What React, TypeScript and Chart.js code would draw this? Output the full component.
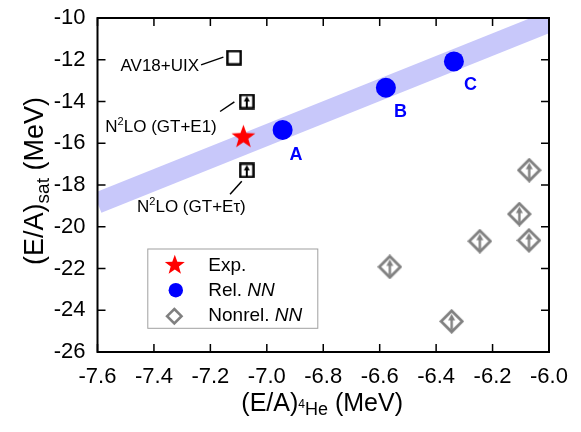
import React, { useEffect, useRef } from "react";
import { Chart, registerables } from "chart.js";

Chart.register(...registerables);

const FONT = "'Liberation Sans', Arial, Helvetica, sans-serif";

// ---- data ----
const xTicks = [-7.6, -7.4, -7.2, -7.0, -6.8, -6.6, -6.4, -6.2, -6.0];
const yTicks = [-26, -24, -22, -20, -18, -16, -14, -12, -10];

const bandX = [-7.6, -6.0];
const bandY = [-18.86, -10.19];

const expX = [-7.083];
const expY = [-15.71];

const relX = [-6.944, -6.578, -6.337];
const relY = [-15.36, -13.34, -12.08];
const relLabels = ["A", "B", "C"];

const nonrelX = [-6.07, -6.105, -6.071, -6.245, -6.564, -6.345];
const nonrelY = [-17.29, -19.39, -20.65, -20.69, -21.92, -24.53];

const av18X = [-7.116];
const av18Y = [-11.9];
const av18Label = "AV18+UIX";

const n2loX = [-7.071, -7.071];
const n2loY = [-14.0, -17.3];
const n2loLabels = ["(GT+E1)", "(GT+E\u03c4)"];

const legendLabels = ["Exp.", "Rel. ", "Nonrel. "];

// ---- drawing helpers ----
const BLUE = "#0000ff";
const RED = "#ff0000";
const GRAY = "#808080";

function drawStar(ctx: CanvasRenderingContext2D, cx: number, cy: number, R: number, r: number, color: string) {
  ctx.beginPath();
  for (let i = 0; i < 10; i++) {
    const ang = -Math.PI / 2 + (i * Math.PI) / 5;
    const rad = i % 2 === 0 ? R : r;
    const px = cx + rad * Math.cos(ang);
    const py = cy + rad * Math.sin(ang);
    if (i === 0) ctx.moveTo(px, py);
    else ctx.lineTo(px, py);
  }
  ctx.closePath();
  ctx.fillStyle = color;
  ctx.fill();
}

function drawArrow(ctx: CanvasRenderingContext2D, cx: number, yBottom: number, yTip: number, headW: number, headH: number, lw: number, color: string) {
  ctx.strokeStyle = color;
  ctx.lineWidth = lw;
  ctx.beginPath();
  ctx.moveTo(cx, yBottom);
  ctx.lineTo(cx, yTip + headH - 0.5);
  ctx.stroke();
  ctx.beginPath();
  ctx.moveTo(cx, yTip);
  ctx.lineTo(cx - headW / 2, yTip + headH);
  ctx.lineTo(cx + headW / 2, yTip + headH);
  ctx.closePath();
  ctx.fillStyle = color;
  ctx.fill();
}

function drawDiamond(ctx: CanvasRenderingContext2D, cx: number, cy: number, half: number, lw: number, color: string, arrow: boolean) {
  const h = half - lw / 2;
  ctx.beginPath();
  ctx.moveTo(cx, cy - h);
  ctx.lineTo(cx + h, cy);
  ctx.lineTo(cx, cy + h);
  ctx.lineTo(cx - h, cy);
  ctx.closePath();
  ctx.strokeStyle = color;
  ctx.lineWidth = lw;
  ctx.lineJoin = "miter";
  ctx.stroke();
  if (arrow) drawArrow(ctx, cx, cy + 8.3, cy - 7.6, 7, 6.5, 2.4, color);
}

function drawSquare(ctx: CanvasRenderingContext2D, cx: number, cy: number, half: number, lw: number, color: string, arrow: boolean) {
  const h = half - lw / 2;
  ctx.strokeStyle = color;
  ctx.lineWidth = lw;
  ctx.strokeRect(cx - h, cy - h, 2 * h, 2 * h);
  if (arrow) drawArrow(ctx, cx, cy + h, cy - 5.4, 6, 5.5, 2, color);
}

function makeImg(size: number, draw: (ctx: CanvasRenderingContext2D, c: number) => void) {
  const c = document.createElement("canvas");
  c.width = size;
  c.height = size;
  const ctx = c.getContext("2d")!;
  draw(ctx, size / 2);
  return c;
}

type Run = { t: string; f: string; dy?: number };
function drawRuns(ctx: CanvasRenderingContext2D, runs: Run[], x: number, y: number, align: "left" | "right" | "center") {
  let w = 0;
  for (const r of runs) {
    ctx.font = r.f;
    w += ctx.measureText(r.t).width;
  }
  let cx = align === "left" ? x : align === "right" ? x - w : x - w / 2;
  ctx.textAlign = "left";
  ctx.textBaseline = "alphabetic";
  for (const r of runs) {
    ctx.font = r.f;
    ctx.fillText(r.t, cx, y + (r.dy || 0));
    cx += ctx.measureText(r.t).width;
  }
}

const f = (px: number, style = "") => `${style} ${px}px ${FONT}`.trim();

const decorPlugin = {
  id: "decor",
  afterDraw(chart: any) {
    const ctx: CanvasRenderingContext2D = chart.ctx;
    const { left, right, top, bottom } = chart.chartArea;
    const xs = chart.scales.x;
    const ys = chart.scales.y;
    ctx.save();

    // frame
    ctx.strokeStyle = "#000";
    ctx.lineWidth = 2;
    ctx.strokeRect(left, top, right - left, bottom - top);

    // inward ticks on all four sides
    ctx.lineWidth = 1.5;
    const TL = 8;
    ctx.beginPath();
    for (const v of xTicks) {
      const px = xs.getPixelForValue(v);
      ctx.moveTo(px, bottom);
      ctx.lineTo(px, bottom - TL);
      ctx.moveTo(px, top);
      ctx.lineTo(px, top + TL);
    }
    for (const v of yTicks) {
      const py = ys.getPixelForValue(v);
      ctx.moveTo(left, py);
      ctx.lineTo(left + TL, py);
      ctx.moveTo(right, py);
      ctx.lineTo(right - TL, py);
    }
    ctx.stroke();

    // labels A, B, C
    const relOff = [
      [7, 30],
      [8, 29],
      [10, 29],
    ];
    ctx.fillStyle = BLUE;
    ctx.font = f(18, "bold");
    ctx.textAlign = "left";
    ctx.textBaseline = "alphabetic";
    relLabels.forEach((lab, i) => {
      const px = xs.getPixelForValue(relX[i]);
      const py = ys.getPixelForValue(relY[i]);
      ctx.fillText(lab, px + relOff[i][0], py + relOff[i][1]);
    });

    // annotations for squares
    ctx.fillStyle = "#000";
    ctx.strokeStyle = "#000";
    ctx.lineWidth = 1.5;
    {
      const px = xs.getPixelForValue(av18X[0]);
      const py = ys.getPixelForValue(av18Y[0]);
      drawRuns(ctx, [{ t: av18Label, f: f(17) }], px - 35, py + 13, "right");
      ctx.beginPath();
      ctx.moveTo(px - 33, py + 7.2);
      ctx.lineTo(px - 10.7, py - 0.5);
      ctx.stroke();
    }
    const n2loOff = [
      { tx: -30, ty: 30, l: [-26.7, 10, -12.4, 0.4] },
      { tx: -1, ty: 41.5, l: [-16.7, 23.8, -5, 10.8] },
    ];
    n2loLabels.forEach((lab, i) => {
      const px = xs.getPixelForValue(n2loX[i]);
      const py = ys.getPixelForValue(n2loY[i]);
      const o = n2loOff[i];
      drawRuns(
        ctx,
        [
          { t: "N", f: f(17) },
          { t: "2", f: f(11), dy: -7 },
          { t: "LO " + lab, f: f(17) },
        ],
        px + o.tx,
        py + o.ty,
        "right"
      );
      ctx.beginPath();
      ctx.moveTo(px + o.l[0], py + o.l[1]);
      ctx.lineTo(px + o.l[2], py + o.l[3]);
      ctx.stroke();
    });

    // legend box
    const bx = left + 49.8;
    const by = top + 230.5;
    const bw = 170;
    const bh = 79.3;
    ctx.fillStyle = "#fff";
    ctx.fillRect(bx, by, bw, bh);
    ctx.strokeStyle = "#a0a0a0";
    ctx.lineWidth = 1;
    ctx.strokeRect(bx + 0.5, by + 0.5, bw, bh);
    const symX = bx + 27.5;
    const rows = [16.7, 41.7, 67.7];
    drawStar(ctx, symX, by + rows[0], 10.5, 4.3, RED);
    ctx.beginPath();
    ctx.arc(symX + 1, by + rows[1], 7.2, 0, Math.PI * 2);
    ctx.fillStyle = BLUE;
    ctx.fill();
    drawDiamond(ctx, symX - 0.5, by + rows[2], 8.5, 2.6, GRAY, false);
    ctx.fillStyle = "#000";
    const tx = bx + 61;
    drawRuns(ctx, [{ t: legendLabels[0], f: f(19) }], tx, by + rows[0] + 6, "left");
    drawRuns(ctx, [{ t: legendLabels[1], f: f(19) }, { t: "NN", f: f(19, "italic") }], tx, by + rows[1] + 6, "left");
    drawRuns(ctx, [{ t: legendLabels[2], f: f(19) }, { t: "NN", f: f(19, "italic") }], tx, by + rows[2] + 5, "left");

    // axis titles
    ctx.fillStyle = "#000";
    drawRuns(
      ctx,
      [
        { t: "(E/A)", f: f(25) },
        { t: "4", f: f(12), dy: -3.5 },
        { t: "He", f: f(18), dy: 4 },
        { t: " (MeV)", f: f(25) },
      ],
      395,
      403,
      "right"
    );
    ctx.translate(35, 173);
    ctx.rotate(-Math.PI / 2);
    drawRuns(
      ctx,
      [
        { t: "(E/A)", f: f(27) },
        { t: "sat", f: f(19), dy: 6 },
        { t: " (MeV)", f: f(27) },
      ],
      0,
      0,
      "center"
    );
    ctx.restore();
  },
};

export default function App() {
  const ref = useRef<HTMLCanvasElement | null>(null);

  useEffect(() => {
    const canvas = ref.current;
    if (!canvas) return;

    const starImg = makeImg(27, (c, m) => drawStar(c, m, m, 12.5, 5.1, RED));
    const diamondImg = makeImg(25, (c, m) => drawDiamond(c, m, m, 12, 2.8, GRAY, true));
    const squareImg = makeImg(16, (c, m) => drawSquare(c, m, m, 7.8, 2.4, "#000", false));
    const squareArrowImg = makeImg(16, (c, m) => drawSquare(c, m, m, 7.8, 2.4, "#000", true));

    const pts = (xs: number[], ys: number[]) => xs.map((x, i) => ({ x, y: ys[i] }));

    const chart = new Chart(canvas, {
      type: "scatter",
      data: {
        datasets: [
          {
            label: "Exp.",
            data: pts(expX, expY),
            pointStyle: starImg as any,
            order: 1,
          },
          {
            label: "Rel. NN",
            data: pts(relX, relY),
            pointStyle: "circle",
            pointRadius: 10,
            backgroundColor: BLUE,
            borderWidth: 0,
            order: 2,
          },
          {
            label: "Nonrel. NN",
            data: pts(nonrelX, nonrelY),
            pointStyle: diamondImg as any,
            order: 3,
          },
          {
            label: av18Label,
            data: pts(av18X, av18Y),
            pointStyle: squareImg as any,
            order: 4,
          },
          {
            label: "N2LO",
            data: pts(n2loX, n2loY),
            pointStyle: squareArrowImg as any,
            order: 5,
          },
          {
            type: "line",
            label: "band",
            data: pts(bandX, bandY),
            borderColor: "rgb(200,200,250)",
            borderWidth: 21,
            borderCapStyle: "butt",
            pointRadius: 0,
            fill: false,
            clip: 0,
            order: 10,
          } as any,
        ],
      },
      options: {
        responsive: false,
        animation: false,
        events: [],
        layout: { padding: { top: 6.5, right: 24, bottom: 0, left: 0 } },
        plugins: {
          legend: { display: false },
          tooltip: { enabled: false },
        },
        scales: {
          x: {
            type: "linear",
            min: -7.6,
            max: -6.0,
            grid: { display: false, drawTicks: false },
            border: { display: false },
            afterBuildTicks: (s: any) => {
              s.ticks = xTicks.map((v) => ({ value: v }));
            },
            afterFit: (s: any) => {
              s.height = 72;
              s.paddingLeft = 0;
              s.paddingRight = 0;
            },
            ticks: {
              autoSkip: false,
              maxRotation: 0,
              padding: 12,
              color: "#000",
              font: { family: FONT, size: 22 },
              callback: (v: any) => Number(v).toFixed(1),
            },
          },
          y: {
            type: "linear",
            min: -26,
            max: -10,
            grid: { display: false, drawTicks: false },
            border: { display: false },
            afterBuildTicks: (s: any) => {
              s.ticks = yTicks.map((v) => ({ value: v }));
            },
            afterFit: (s: any) => {
              s.width = 89.5;
              s.paddingTop = 0;
              s.paddingBottom = 0;
            },
            ticks: {
              autoSkip: false,
              padding: 12,
              color: "#000",
              font: { family: FONT, size: 22 },
              callback: (v: any) => String(v),
            },
          },
        },
      },
      plugins: [decorPlugin],
    });

    return () => chart.destroy();
  }, []);

  return (
    <div style={{ width: 565, height: 416 }}>
      <canvas ref={ref} width={565} height={416} style={{ display: "block" }} />
    </div>
  );
}
